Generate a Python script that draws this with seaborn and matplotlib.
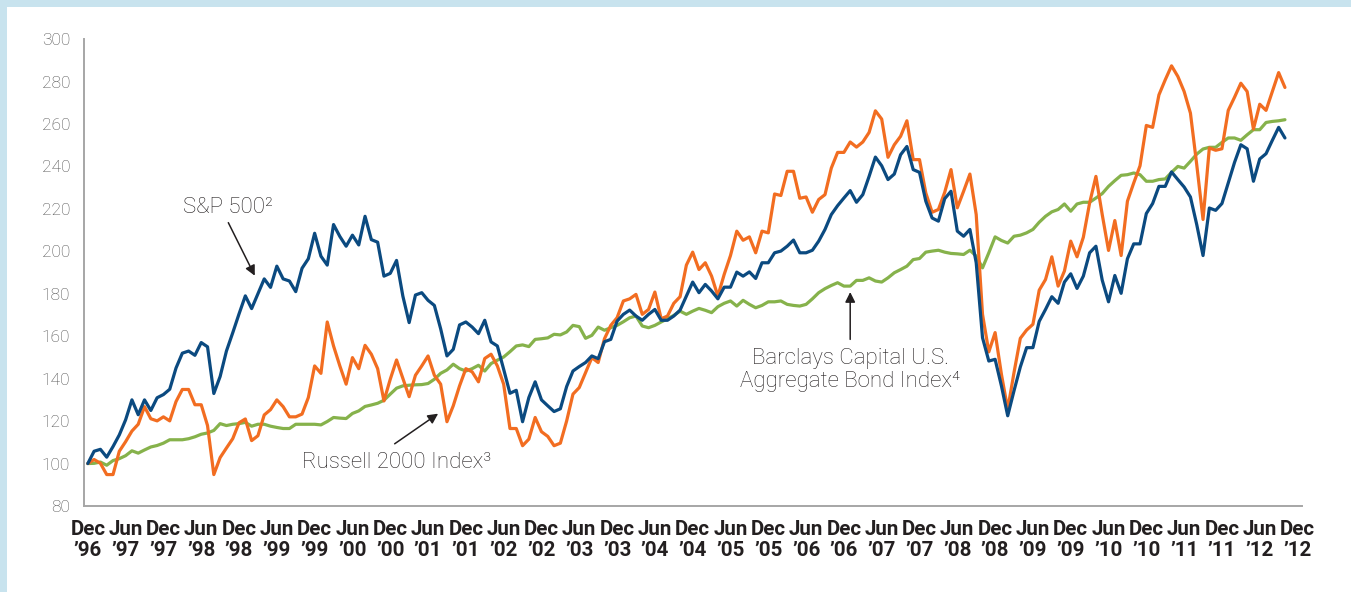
import numpy as np
import pandas as pd
import seaborn as sns
import matplotlib.pyplot as plt
from matplotlib.patches import Rectangle

# growth of 100, month-end values from Dec '96 (month 0) to Oct '12 (month 190)
sp500 = [100, 105.8, 106.7, 103, 108, 113.5, 120.6, 130, 123, 130, 125, 131,
         132.5, 135, 145, 152, 153, 151, 157, 155, 133, 141, 153, 161.6,
         170.5, 179, 173, 180, 187, 183, 193, 187, 186, 181, 192, 196.5,
         208.5, 197.7, 193.5, 212.6, 207, 202.4, 207.6, 203, 216.5, 205.5, 204.3, 188.3,
         189.6, 195.7, 178.9, 166.4, 179.4, 180.5, 176.9, 174.5, 163.5, 150.7, 153.8, 165.3,
         166.7, 164.3, 161.2, 167.5, 157.3, 155.4, 144.4, 133.1, 134.5, 119.7, 131.1, 138.5,
         130, 127.2, 124.5, 125.8, 136.3, 143.6, 145.7, 147.6, 150.7, 149.4, 157.4, 158.5,
         167.1, 170.3, 172.3, 169.5, 167.5, 170.3, 172.6, 167.5, 167.5, 169.5, 172.3, 178.9,
         185.5, 180.5, 184.4, 181.3, 177.6, 183.1, 183.1, 190.2, 188.3, 190.3, 187.2, 194.6,
         194.6, 199.3, 200.1, 202.4, 205.3, 199.3, 199.3, 200.5, 204.8, 210.3, 217.3, 221.5,
         225.1, 228.6, 223.1, 226.7, 235.3, 244.4, 240.3, 233.8, 236.4, 245.5, 249.4, 238.5,
         237.2, 223.6, 215.7, 214.2, 224.8, 228.3, 209.5, 207.1, 210.3, 194.6, 159.3, 148.3,
         149.1, 136.6, 122.5, 134.3, 145.5, 154.6, 154.6, 167, 172.6, 178.6, 175.5, 185.5,
         189.4, 182.5, 188.3, 199.3, 202.4, 186.4, 176.2, 188.6, 180.2, 196.5, 203.5, 203.5,
         217.8, 222.5, 230.6, 230.6, 237.4, 233.8, 230.3, 225.6, 212.6, 198, 220.4, 219.3,
         222.5, 232.2, 241.9, 250.2, 248.3, 233, 243.5, 246, 252.3, 258.4, 253.4]

russell = [100, 101.9, 100.1, 94.8, 94.8, 105.8, 110.3, 115.3, 118.5, 126.8, 121.1, 120.1,
           122, 120.1, 129.2, 134.9, 134.9, 127.7, 127.7, 117.9, 94.8, 102.8, 107.3, 111.7,
           119.2, 121, 110.8, 113.1, 122.9, 125.4, 130, 126.8, 122, 122, 123.3, 131.1,
           146, 142.5, 166.7, 155.4, 146, 137.4, 149.9, 144.7, 155.7, 151.5, 144.7, 129.5,
           139.7, 148.8, 140.2, 131.5, 141.6, 146, 150.7, 141.6, 137.4, 119.7, 127.2, 136.6,
           144.7, 143.2, 138.5, 149.5, 151.5, 146, 137.4, 116.5, 116.5, 108.4, 111.5, 121.7,
           115, 112.8, 108.4, 109.6, 120.1, 132.7, 135.8, 142.9, 149.9, 147.6, 158.8, 165.1,
           168.7, 176.6, 177.6, 179.7, 170.3, 172.6, 180.8, 168.2, 169.5, 175.5, 178.6, 193.5,
           199.6, 191.4, 194.6, 188.3, 178.9, 189.1, 198, 209.5, 205.2, 206.8, 199.3, 209.5,
           208.7, 227, 226.3, 237.7, 237.7, 225, 225.6, 218.4, 224.4, 226.7, 239.2, 246.6,
           246.6, 251.5, 249.1, 251.5, 256, 266.2, 262.3, 244.3, 250.2, 254.2, 261.5, 243.2,
           243.2, 227.5, 218.4, 219.7, 227.8, 238.5, 220.5, 228.3, 236.4, 217.3, 170.3, 152.6,
           161.7, 142.1, 125.6, 142.9, 159, 162.9, 165.6, 181.7, 186.7, 197.4, 183.6, 190.7,
           204.8, 197.4, 206.6, 222.8, 235.3, 217.3, 200.4, 214.5, 198, 223.6, 232.2, 240.3,
           259.3, 258.4, 273.7, 280.8, 287.4, 282.4, 275.3, 265.1, 240.8, 215, 248.7, 247.6,
           248.3, 266.4, 272.6, 279.2, 275.3, 257.6, 269.3, 266.4, 275.3, 284.2, 277.2]

barclays = [100, 100.1, 100.7, 99.2, 101.4, 102.3, 103.7, 106, 104.9, 106.4, 107.8, 108.5,
            109.6, 111.2, 111.2, 111.2, 111.7, 112.6, 113.8, 114.4, 115.6, 118.8, 117.9, 118.5,
            118.8, 119.4, 117.6, 118.5, 118.5, 117.6, 117, 116.5, 116.5, 118.5, 118.5, 118.5,
            118.5, 118.2, 119.8, 121.7, 121.4, 121.2, 123.6, 124.8, 126.9, 127.6, 128.4, 129.8,
            132.7, 135.5, 136.6, 136.9, 137.1, 137.2, 137.7, 139.7, 142.5, 144.1, 146.8, 144.7,
            143.6, 144.7, 146.3, 143.6, 147.1, 148.7, 150.2, 152.7, 155.4, 155.9, 155.1, 158.5,
            158.8, 159.2, 160.9, 160.6, 162, 165.1, 164.5, 159, 160.4, 164.3, 162.8, 164,
            165.1, 166.8, 168.7, 169.5, 164.8, 164, 165.1, 166.7, 168.2, 169.8, 171.8, 170.3,
            171.8, 173.1, 172.2, 171.1, 173.9, 175.5, 176.6, 174.2, 176.9, 175, 173.4, 174.5,
            176.2, 176.2, 176.6, 175, 174.5, 174.2, 175, 177.6, 180.5, 182.4, 183.9, 185.2,
            183.6, 183.6, 186.3, 186.3, 187.5, 186, 185.5, 187.5, 189.9, 191.4, 193, 196.1,
            196.6, 199.6, 200.1, 200.5, 199.6, 199, 198.8, 198.5, 200.5, 197.7, 192.2, 199.3,
            206.8, 205.1, 203.9, 207.1, 207.6, 208.7, 210.3, 213.7, 216.5, 218.6, 219.7, 222.3,
            218.9, 222.3, 223.1, 223.1, 225.1, 227.2, 230.6, 233.3, 235.8, 236.1, 236.9, 236.1,
            233, 233, 233.8, 234.1, 237.2, 240, 239.2, 242.4, 245.8, 248.2, 249, 249,
            251.3, 253.4, 253.4, 252.3, 254.9, 257.3, 257.3, 260.7, 261.2, 261.5, 262]

tick_labels = ["Dec\n\u201996", "Jun\n\u201997", "Dec\n\u201997", "Jun\n\u201998", "Dec\n\u201998",
               "Jun\n\u201999", "Dec\n\u201999", "Jun\n\u201900", "Dec\n\u201900", "Jun\n\u201901",
               "Dec\n\u201901", "Jun\n\u201902", "Dec\n\u201902", "Jun\n\u201903", "Dec\n\u201903",
               "Jun\n\u201904", "Dec\n\u201904", "Jun\n\u201905", "Dec\n\u201905", "Jun\n\u201906",
               "Dec\n\u201906", "Jun\n\u201907", "Dec\n\u201907", "Jun\n\u201908", "Dec\n\u201908",
               "Jun\n\u201909", "Dec\n\u201909", "Jun\n\u201910", "Dec\n\u201910", "Jun\n\u201911",
               "Dec\n\u201911", "Jun\n\u201912", "Dec\n\u201912"]

series_names = ["S&P 500", "Russell 2000", "Barclays Agg"]
colors = ["#0b4a80", "#f26d21", "#86b24b"]

sns.set_style("white")
plt.rcParams['font.family'] = ['Roboto', 'DejaVu Sans']

months = np.arange(len(sp500))
df = pd.DataFrame({"month": np.tile(months, 3),
                   "value": sp500 + russell + barclays,
                   "series": np.repeat(series_names, len(months))})

fig = plt.figure(figsize=(13.51, 5.92), dpi=100, facecolor="#c8e3ee")
# white panel inside the light blue frame
fig.patches.append(Rectangle((7 / 1351, 0), 1, 1 - 7 / 592, transform=fig.transFigure,
                             facecolor="white", edgecolor="none", zorder=-5))
ax = fig.add_axes([0.0622, 0.1453, 0.9015, 0.7887])
ax.set_facecolor("none")
ax.set_zorder(2)

sns.lineplot(data=df, x="month", y="value", hue="series", hue_order=series_names[::-1],
             palette=dict(zip(series_names, colors)), linewidth=2.3, legend=False, ax=ax)

ax.set_xlim(-0.6, 192.7)
ax.set_ylim(80, 300)
ax.set_yticks(range(80, 301, 20))
ax.set_xticks(range(0, 193, 6))
ax.set_xticklabels(tick_labels, family=['Roboto', 'DejaVu Sans'],
                   fontweight='bold', fontsize=14.8, color="#231f20", linespacing=1.12)
for lab in ax.get_yticklabels():
    lab.set_fontweight('light')
ax.tick_params(axis='y', direction='in', length=6, width=1.2, color="#a6a6a6",
               labelsize=12.5, labelcolor="#4d4d4d", pad=10)
ax.tick_params(axis='x', length=0, pad=10)
ax.set_xlabel("")
ax.set_ylabel("")
sns.despine(ax=ax, top=True, right=True)
for s in ["left", "bottom"]:
    ax.spines[s].set_color("#a6a6a6")
    ax.spines[s].set_linewidth(1.4)

txt = dict(fontsize=16, color="#231f20", fontweight='light', ha='center', va='center')
arrow = dict(arrowstyle='-|>', color="#231f20", lw=1.1, mutation_scale=15, shrinkA=0, shrinkB=0)
ax.text(22.3, 220.5, "S&P 500\u00b2", **txt)
ax.annotate("", xy=(26.5, 188.5), xytext=(22.3, 213.5), arrowprops=arrow)
ax.text(49, 100.7, "Russell 2000 Index\u00b3", **txt)
ax.annotate("", xy=(55.6, 123.5), xytext=(48.7, 109.3), arrowprops=arrow)
ax.text(121, 144, "Barclays Capital U.S.\nAggregate Bond Index\u2074", linespacing=1.15, **txt)
ax.annotate("", xy=(121, 180.8), xytext=(121, 158.5), arrowprops=arrow)

plt.savefig("out.png", dpi=100, facecolor=fig.get_facecolor())
